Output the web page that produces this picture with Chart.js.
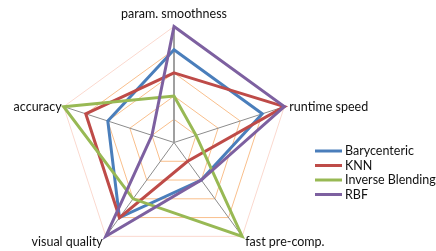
<!DOCTYPE html>
<html>
<head>
<meta charset="utf-8">
<script src="https://cdn.jsdelivr.net/npm/chart.js@4.4.0/dist/chart.umd.min.js"></script>
<style>
    html, body { margin: 0; padding: 0; background: #fff; }
    #wrap { width: 436px; height: 251px; }
</style>
</head>
<body>
<div id="wrap"><canvas id="chart" width="436" height="251"></canvas></div>
<script>
const categories = ["param. smoothness", "runtime speed", "fast pre-comp.", "visual quality", "accuracy"];
const seriesNames = ["Barycenteric", "KNN", "Inverse Blending", "RBF"];
const barycentric = [4, 4, 2, 4, 3];
const knn = [3, 5, 1, 4, 4];
const inverseBlending = [2, 1, 5, 3, 5];
const rbf = [5, 5, 2, 5, 1];
const tickValues = [0, 1, 2, 3, 4, 5];

const seriesColors = ["#4a7ebb", "#be4b48", "#98b954", "#7d60a0"];
const FONT = "Lato, 'Open Sans', sans-serif";

// Excel-style point labels + legend, drawn with the scale's own geometry
const labelsPlugin = {
    id: "radarLabels",
    afterDraw(chart) {
        const ctx = chart.ctx;
        const scale = chart.scales.r;
        const outer = scale.getDistanceFromCenterForValue(scale.max);
        ctx.save();
        ctx.font = "12.5px " + FONT;
        ctx.fillStyle = "#111";
        ctx.textBaseline = "middle";
        const offsets = [
            { dx: 0, dy: -13, align: "center" },
            { dx: 5, dy: 0, align: "left" },
            { dx: 3, dy: 6, align: "left" },
            { dx: -3, dy: 6, align: "right" },
            { dx: -2, dy: 0, align: "right" },
        ];
        categories.forEach((label, i) => {
            const p = scale.getPointPosition(i, outer);
            const o = offsets[i];
            ctx.textAlign = o.align;
            ctx.fillText(label, p.x + o.dx, p.y + o.dy);
        });

        // legend
        ctx.textAlign = "left";
        seriesNames.forEach((name, i) => {
            const y = 151 + i * 14.5;
            ctx.strokeStyle = seriesColors[i];
            ctx.lineWidth = 3;
            ctx.beginPath();
            ctx.moveTo(315, y);
            ctx.lineTo(342, y);
            ctx.stroke();
            ctx.fillText(name, 345, y);
        });
        ctx.restore();
    },
};

const seriesData = [barycentric, knn, inverseBlending, rbf];

new Chart(document.getElementById("chart"), {
    type: "radar",
    data: {
        labels: categories,
        datasets: seriesNames.map((name, i) => ({
            label: name,
            data: seriesData[i],
            borderColor: seriesColors[i],
            backgroundColor: seriesColors[i],
            borderWidth: 3,
            pointRadius: 0,
            fill: false,
            tension: 0,
            order: seriesNames.length - i,
        })),
    },
    options: {
        responsive: false,
        animation: false,
        plugins: {
            legend: { display: false },
            tooltip: { enabled: false },
        },
        scales: {
            r: {
                min: tickValues[0],
                max: tickValues[tickValues.length - 1],
                ticks: { display: false, stepSize: 1 },
                pointLabels: { display: false },
                grid: {
                    circular: false,
                    lineWidth: 1,
                    color: (c) => (c.index === 5 ? "#fbd9cf" : "#f9bf8c"),
                },
                angleLines: {
                    display: true,
                    color: (c) => (c.index === 0 ? "#a0a0a0" : "#8c8c8c"),
                    lineWidth: (c) => (c.index === 0 ? 2 : 1),
                },
                afterFit: (scale) => {
                    scale.xCenter = 174;
                    scale.yCenter = 142.5;
                    scale.drawingArea = 116;
                },
            },
        },
    },
    plugins: [labelsPlugin],
});
</script>
</body>
</html>
